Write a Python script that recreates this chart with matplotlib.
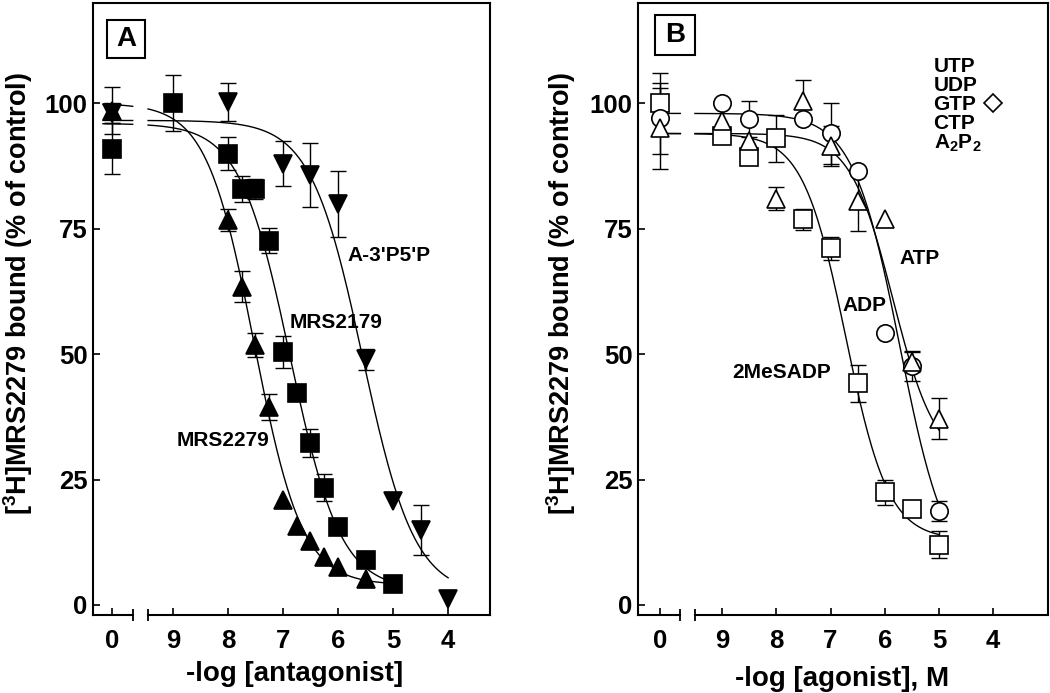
import numpy as np
import matplotlib
matplotlib.use('Agg')
import matplotlib.pyplot as plt
from matplotlib.patches import Rectangle

plt.rcParams['font.family'] = ['Liberation Sans', 'DejaVu Sans']
plt.rcParams['font.weight'] = 'bold'
plt.rcParams['mathtext.fontset'] = 'custom'
plt.rcParams['mathtext.rm'] = 'Liberation Sans:bold'
plt.rcParams['mathtext.it'] = 'Liberation Sans:bold'
plt.rcParams['mathtext.bf'] = 'Liberation Sans:bold'

# ---- Panel A: antagonists (-log M, % of control, SEM) ----
mrs2279_logc = [8.0, 7.75, 7.5, 7.25, 7.0, 6.75, 6.5, 6.25, 6.0, 5.5]
mrs2279_pct = [76.7, 63.4, 51.9, 39.4, 21.0, 15.7, 12.7, 9.5, 7.5, 5.2]
mrs2279_err = [2.2, 3.1, 2.4, 2.6, 0, 0, 0, 0, 0, 0]
mrs2279_ctrl = [98.5, 4.7]
mrs2279_fit = [100, 4, 7.52, 1.0]     # top, bottom, pIC50, slope

mrs2179_logc = [9.0, 8.0, 7.75, 7.5, 7.25, 7.0, 6.75, 6.5, 6.25, 6.0, 5.5, 5.0]
mrs2179_pct = [100, 90, 83, 83, 72.6, 50.5, 42.3, 32.2, 23.4, 15.5, 9.0, 4.2]
mrs2179_err = [5.6, 3.3, 2.6, 2.0, 2.5, 3.2, 0, 2.8, 2.7, 0, 0, 0]
mrs2179_ctrl = [91, 5]
mrs2179_fit = [96, 3, 6.87, 0.95]

a3p5p_logc = [8.0, 7.0, 6.5, 6.0, 5.5, 5.0, 4.5, 4.0]
a3p5p_pct = [100.2, 88, 85.7, 80, 49, 20.7, 15, 1.2]
a3p5p_err = [3.8, 4.5, 6.3, 6.6, 2.1, 0, 5, 0]
a3p5p_ctrl = [98, 2]
a3p5p_fit = [96.6, 2, 5.55, 0.92]

# ---- Panel B: agonists ----
mesadp_logc = [9.0, 8.5, 8.0, 7.5, 7.0, 6.5, 6.0, 5.5, 5.0]
mesadp_pct = [93.4, 89.4, 93.0, 76.9, 71.1, 44.2, 22.5, 19.1, 12.0]
mesadp_err = [0, 0, 4.6, 2.1, 2.3, 3.7, 2.5, 1.0, 2.7]
mesadp_ctrl = [100, 6]
mesadp_fit = [94, 13, 6.72, 1.1]

adp_logc = [9.0, 8.5, 7.5, 7.0, 6.5, 6.0, 5.5, 5.0]
adp_pct = [100, 96.8, 96.8, 94.0, 86.5, 54.2, 47.6, 18.7]
adp_err = [0, 3.6, 0, 6, 0, 0, 3, 2]
adp_ctrl = [97, 7]
adp_fit = [98, 5, 5.72, 1.0]

atp_logc = [9.0, 8.5, 8.0, 7.5, 7.0, 6.5, 6.0, 5.5, 5.0]
atp_pct = [96.4, 92.4, 81.0, 100.4, 91.5, 80.5, 76.9, 48.5, 37.1]
atp_err = [0, 0, 2.3, 4.2, 4, 6, 0, 2, 4.1]
atp_ctrl = [95, 8]
atp_fit = [94, 28, 5.85, 1.1]

inactive_names = ['UTP', 'UDP', 'GTP', 'CTP', r'A$_2$P$_2$']
inactive_logc = [4.0]
inactive_pct = [100]

x_ticks = [9, 8, 7, 6, 5, 4]
y_ticks = [0, 25, 50, 75, 100]


def hill(p, top, bottom, pic50, slope):
    return bottom + (top - bottom) / (1 + 10 ** (slope * (pic50 - p)))


def draw_series(ax, ctrl_x, left_start, brk, logc, pct, err, ctrl, fit, end,
                marker, filled):
    # fitted curve, broken at the axis break
    for lo, hi in [(brk[0], left_start), (end, brk[1])]:
        xs = np.linspace(lo, hi, 200)
        ax.plot(xs, hill(xs, *fit), color='black', lw=1.0, zorder=1)
    x = np.array([ctrl_x] + logc)
    y = np.array([ctrl[0]] + pct)
    e = np.array([ctrl[1]] + err)
    m = e > 0
    ax.errorbar(x[m], y[m], yerr=e[m], fmt='none', ecolor='black',
                elinewidth=1.0, capsize=5.5, capthick=1.0, zorder=2)
    ax.plot(x, y, ls='none', marker=marker, ms=12.5,
            mfc='black' if filled else 'white', mec='black', mew=1.2, zorder=3)


def style_axes(ax, xlim, ctrl_x, brk):
    ax.set_xlim(*xlim)
    ax.set_ylim(-2, 120)
    ax.set_xticks([ctrl_x] + x_ticks)
    ax.set_xticklabels(['0'] + [str(t) for t in x_ticks])
    ax.set_yticks(y_ticks)
    ax.tick_params(direction='in', length=5, width=1.2, labelsize=18.5)
    ax.tick_params(axis='x', pad=10)
    ax.tick_params(axis='y', pad=4)
    for s in ['left', 'right', 'top']:
        ax.spines[s].set_linewidth(1.5)
    ax.spines['bottom'].set_visible(False)
    tr = ax.get_xaxis_transform()
    ax.plot([xlim[0], brk[0]], [0, 0], color='black', lw=1.5, transform=tr, clip_on=False)
    ax.plot([brk[1], xlim[1]], [0, 0], color='black', lw=1.5, transform=tr, clip_on=False)
    ax.plot(brk, [0, 0], ls='none', marker='|', ms=8, mew=1.3, color='black',
            transform=tr, clip_on=False)


def panel_letter(ax, letter, x0, y0, w, h):
    ax.add_patch(Rectangle((x0, y0), w, h, transform=ax.transAxes, fill=False,
                           ec='black', lw=1.5, clip_on=False))
    ax.text(x0 + w / 2, y0 + h / 2, letter, transform=ax.transAxes,
            ha='center', va='center', fontsize=20, fontweight='bold')


fig = plt.figure(figsize=(10.5, 6.93), dpi=100)
axA = fig.add_axes([0.0886, 0.1126, 0.378, 0.883])
axB = fig.add_axes([0.6076, 0.1126, 0.3905, 0.883])

ylab = r'[$^{3}$H]MRS2279 bound (% of control)'

# Panel A
brkA = (9.73, 9.45)
style_axes(axA, (10.45, 3.24), 10.1, brkA)
draw_series(axA, 10.1, 10.27, brkA, mrs2279_logc, mrs2279_pct, mrs2279_err,
            mrs2279_ctrl, mrs2279_fit, 5.15, '^', True)
draw_series(axA, 10.1, 10.27, brkA, mrs2179_logc, mrs2179_pct, mrs2179_err,
            mrs2179_ctrl, mrs2179_fit, 4.9, 's', True)
draw_series(axA, 10.1, 10.27, brkA, a3p5p_logc, a3p5p_pct, a3p5p_err,
            a3p5p_ctrl, a3p5p_fit, 4.0, 'v', True)
axA.text(5.82, 69.6, "A-3'P5'P", fontsize=15, fontweight='bold', va='center')
axA.text(6.87, 56.3, 'MRS2179', fontsize=15, fontweight='bold', va='center')
axA.text(8.93, 32.8, 'MRS2279', fontsize=15, fontweight='bold', va='center')
axA.set_xlabel('-log [antagonist]', fontsize=20, fontweight='bold')
axA.xaxis.set_label_coords(0.509, -0.075)
axA.set_ylabel(ylab, fontsize=19.5, fontweight='bold')
axA.yaxis.set_label_coords(-0.146, 0.526)
panel_letter(axA, 'A', 0.0353, 0.910, 0.096, 0.062)

# Panel B
brkB = (9.77, 9.5)
style_axes(axB, (10.55, 2.99), 10.14, brkB)
draw_series(axB, 10.14, 10.05, brkB, mesadp_logc, mesadp_pct, mesadp_err,
            mesadp_ctrl, mesadp_fit, 5.0, 's', False)
draw_series(axB, 10.14, 10.05, brkB, adp_logc, adp_pct, adp_err,
            adp_ctrl, adp_fit, 5.0, 'o', False)
draw_series(axB, 10.14, 10.05, brkB, atp_logc, atp_pct, atp_err,
            atp_ctrl, atp_fit, 5.0, '^', False)
axB.plot(inactive_logc, inactive_pct, ls='none', marker='D', ms=9,
         mfc='white', mec='black', mew=1.2)
for i, name in enumerate(inactive_names):
    axB.text(5.1, 107.3 - 3.8 * i, name, fontsize=15, fontweight='bold', va='center')
axB.text(5.73, 69.1, 'ATP', fontsize=15, fontweight='bold', va='center')
axB.text(6.78, 59.6, 'ADP', fontsize=15, fontweight='bold', va='center')
axB.text(8.82, 46.4, '2MeSADP', fontsize=15, fontweight='bold', va='center')
axB.set_xlabel('-log [agonist], M', fontsize=20, fontweight='bold')
axB.xaxis.set_label_coords(0.498, -0.083)
axB.set_ylabel(ylab, fontsize=19.5, fontweight='bold')
axB.yaxis.set_label_coords(-0.146, 0.526)
panel_letter(axB, 'B', 0.0415, 0.915, 0.0975, 0.065)

fig.savefig('out.png', dpi=100)
